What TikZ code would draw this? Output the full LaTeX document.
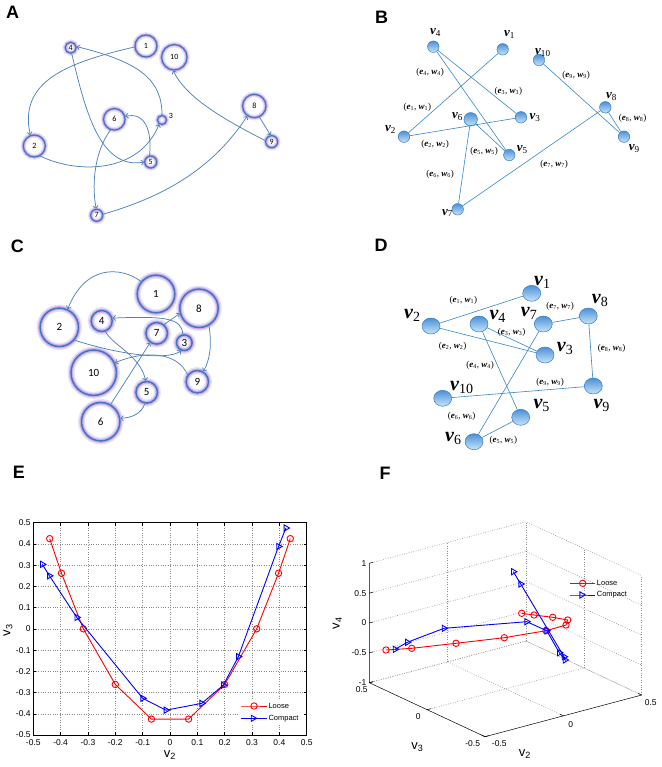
\documentclass[tikz,border=0pt]{standalone}
\usepackage{fontspec}
\setmainfont{Liberation Serif}
\setsansfont{Liberation Sans}
\newfontfamily\calibfont{Carlito}
\usetikzlibrary{arrows.meta,shapes.geometric,plotmarks}

\definecolor{ringblue}{RGB}{68,114,196}
\definecolor{arrowblue}{RGB}{79,129,189}
\definecolor{glowpurple}{RGB}{200,178,234}
\definecolor{glowsoft}{RGB}{234,225,248}
\definecolor{ballrim}{RGB}{60,125,195}
\definecolor{balltop}{RGB}{75,145,215}
\definecolor{ballbot}{RGB}{200,228,250}
\definecolor{edgeblue}{RGB}{55,135,200}
\definecolor{mred}{RGB}{255,0,0}
\definecolor{mblue}{RGB}{0,0,255}
\definecolor{gridgray}{RGB}{140,140,140}

\newcommand{\fsz}[1]{\fontsize{#1}{#1}\selectfont}
\newcommand{\vlab}[1]{{\bfseries\itshape v}\textsubscript{#1}}
\newcommand{\ewlab}[1]{({\bfseries\itshape e}\textsubscript{#1}, {\bfseries\itshape w}\textsubscript{#1})}
\newcommand{\axv}[1]{v\textsubscript{#1}}

\begin{document}
\begin{tikzpicture}[
    x=1pt, y=-1pt,
    panel/.style={anchor=base west, inner sep=0pt, font=\sffamily\bfseries\fsz{18}},
    anode/.style={circle, draw=ringblue, line width=1.2pt, inner sep=0pt, font=\calibfont\fsz{8},
      preaction={fill=white}, preaction={draw=glowsoft, line width=5.5pt}, preaction={draw=glowpurple, line width=3pt}},
    cnode/.style={circle, draw=ringblue, line width=1.5pt, inner sep=0pt, font=\calibfont\fsz{11},
      preaction={fill=white}, preaction={draw=glowsoft, line width=7pt}, preaction={draw=glowpurple, line width=4pt}},
    aedge/.style={draw=arrowblue, line width=0.75pt, -{Straight Barb[length=2.5pt,width=5pt]}},
    bnode/.style={circle, draw=ballrim, line width=0.5pt, inner sep=0pt, top color=balltop, bottom color=ballbot, minimum size=11.5},
    dnode/.style={ellipse, draw=ballrim, line width=0.5pt, inner sep=0pt, top color=balltop, bottom color=ballbot, minimum width=18, minimum height=16},
    bedge/.style={draw=edgeblue, line width=0.6pt},
    bvl/.style={anchor=base west, inner sep=0pt, font=\fsz{13}},
    dvl/.style={anchor=base west, inner sep=0pt, font=\fsz{20}},
    ewl/.style={inner sep=0pt, font=\fsz{9}},
    ticklab/.style={inner sep=0pt, font=\sffamily\fsz{8.5}},
    axlab/.style={inner sep=0pt, font=\sffamily\fsz{13}},
    leglab/.style={anchor=west, inner sep=0pt, font=\sffamily\fsz{7.5}},
    egrid/.style={draw=gridgray, line width=0.5pt, dash pattern=on 0.8pt off 1.6pt},
    axline/.style={draw=black, line width=0.5pt},
    loose/.style={draw=mred, line width=0.9pt, mark=o, mark size=3.2pt, mark options={solid, draw=mred}},
    compact/.style={draw=mblue, line width=0.9pt, mark=triangle, mark size=3.6pt, mark options={solid, draw=mblue, rotate=-90}}
]
    \useasboundingbox (0,0) rectangle (661,767);

    % A
    \node[panel] (labA) at (6,18.3) {A};
    \node[anode, minimum size=22] (a1) at (146,46) {1};
    \node[anode, minimum size=25.5] (a10) at (174.3,57.3) {10};
    \node[anode, minimum size=11] (a4) at (70.7,47.7) {4};
    \node[anode, minimum size=21.5] (a6) at (114.3,119.3) {6};
    \node[anode, minimum size=9] (a3) at (162,120) {};
    \node[font=\calibfont\fsz{8}, inner sep=0pt] (a3t) at (171,115.5) {3};
    \node[anode, minimum size=22] (a2) at (34.3,146) {2};
    \node[anode, minimum size=12] (a5) at (150.7,162) {5};
    \node[anode, minimum size=23.4] (a8) at (254.3,106) {8};
    \node[anode, minimum size=12] (a9) at (271.7,141.7) {9};
    \node[anode, minimum size=12] (a7) at (96.7,215.3) {7};

    \draw[aedge] (a1.185) .. controls (70,62) and (18,80) .. (a2.110);
    \draw[aedge] (a3.90) .. controls (162,80) and (140,62) .. (a4.10);
    \draw[aedge] (a4.280) .. controls (85,110) and (100,170) .. (a5.180);
    \draw[aedge] (a2.300) .. controls (80,175) and (140,172) .. (a3.235);
    \draw[aedge] (a5.100) .. controls (152,130) and (145,112) .. (a6.15);
    \draw[aedge] (a6.250) .. controls (96,150) and (91,180) .. (a7.95);
    \draw[aedge] (a7.10) .. controls (170,195) and (215,165) .. (a8.235);
    \draw[aedge] (a8.295) -- (a9.100);
    \draw[aedge] (a9.170) .. controls (215,115) and (185,95) .. (a10.265);

    % B
    \node[panel] (labB) at (375,24) {B};
    \node[bnode] (b4) at (433.3,46.7) {};
    \node[bnode] (b1) at (502.7,49.3) {};
    \node[bnode] (b10) at (539,60) {};
    \node[bnode] (b8) at (605.3,107.3) {};
    \node[bnode] (b9) at (624,136.7) {};
    \node[bnode] (b3) at (521,117.3) {};
    \node[bnode, minimum size=13.5] (b6) at (470.7,119.3) {};
    \node[bnode] (b2) at (404,136.7) {};
    \node[bnode] (b5) at (509.3,155) {};
    \node[bnode] (b7) at (457.7,209.3) {};

    \draw[bedge] (b2) -- (b1);
    \draw[bedge] (b2) -- (b3);
    \draw[bedge] (b4) -- (b3);
    \draw[bedge] (b4) -- (b5);
    \draw[bedge] (b6) -- (b5);
    \draw[bedge] (b6) -- (b7);
    \draw[bedge] (b7) -- (b8);
    \draw[bedge] (b8) -- (b9);
    \draw[bedge] (b10) -- (b9);

    \node[bvl] (bl4) at (430,35) {\vlab{4}};
    \node[bvl] (bl1) at (504,36.7) {\vlab{1}};
    \node[bvl] (bl10) at (535,55) {\vlab{10}};
    \node[bvl] (bl8) at (606,99) {\vlab{8}};
    \node[bvl] (bl9) at (628.7,150.7) {\vlab{9}};
    \node[bvl] (bl3) at (529.3,120) {\vlab{3}};
    \node[bvl] (bl6) at (452,118.3) {\vlab{6}};
    \node[bvl] (bl2) at (385,131.7) {\vlab{2}};
    \node[bvl] (bl5) at (516.7,151.7) {\vlab{5}};
    \node[bvl] (bl7) at (442,215) {\vlab{7}};

    \node[ewl] (be1) at (417.3,107.3) {\ewlab{1}};
    \node[ewl] (be2) at (435,144) {\ewlab{2}};
    \node[ewl] (be3) at (508.3,91.7) {\ewlab{3}};
    \node[ewl] (be4) at (430,72.7) {\ewlab{4}};
    \node[ewl] (be5) at (484,151.7) {\ewlab{5}};
    \node[ewl] (be6) at (440,174) {\ewlab{6}};
    \node[ewl] (be7) at (554,164) {\ewlab{7}};
    \node[ewl] (be8) at (632.7,118.3) {\ewlab{8}};
    \node[ewl] (be9) at (576,75) {\ewlab{9}};

    % C
    \node[panel] (labC) at (10.7,252.7) {C};
    \node[cnode, minimum size=37.6] (c1) at (156,294) {1};
    \node[cnode, minimum size=38.4] (c8) at (199,308.3) {8};
    \node[cnode, minimum size=38.4] (c2) at (59.3,327.3) {2};
    \node[cnode, minimum size=21] (c4) at (101.7,321) {4};
    \node[cnode, minimum size=21.6] (c7) at (156.7,333.3) {7};
    \node[cnode, minimum size=15.6] (c3) at (184.3,342.7) {3};
    \node[cnode, minimum size=45.4] (c10) at (93.7,372.7) {10};
    \node[cnode, minimum size=22.4] (c9) at (197.3,381.7) {9};
    \node[cnode, minimum size=21.6] (c5) at (146.7,392.3) {5};
    \node[cnode, minimum size=38.4] (c6) at (100.7,421.7) {6};

    \draw[aedge] (c1.140) .. controls (120,266) and (85,265) .. (c2.65);
    \draw[aedge] (c3.100) .. controls (182,318) and (165,316) .. (c4.15);
    \draw[aedge] (c4.290) .. controls (112,345) and (140,355) .. (c5.95);
    \draw[aedge] (c2.320) .. controls (110,352) and (165,362) .. (c3.250);
    \draw[aedge] (c9.145) .. controls (178,352) and (145,350) .. (c10.25);
    \draw[aedge] (c5.260) .. controls (142,413) and (132,418) .. (c6.10);
    \draw[aedge] (c6.60) -- (c7.235);
    \draw[aedge] (c7.50) -- (c8.195);
    \draw[aedge] (c8.300) .. controls (212,345) and (210,360) .. (c9.60);

    % D
    \node[panel] (labD) at (374.3,251.7) {D};
    \node[dnode] (d1) at (531.7,293.3) {};
    \node[dnode] (d2) at (431,326) {};
    \node[dnode] (d4) at (479,324) {};
    \node[dnode] (d7) at (543.3,324) {};
    \node[dnode] (d8) at (588.3,316) {};
    \node[dnode] (d3) at (545,355) {};
    \node[dnode] (d10) at (442.7,398.3) {};
    \node[dnode] (d9) at (593.3,386) {};
    \node[dnode] (d5) at (520.7,417.3) {};
    \node[dnode] (d6) at (474,441.7) {};

    \draw[bedge] (d2) -- (d1);
    \draw[bedge] (d2) -- (d3);
    \draw[bedge] (d4) -- (d3);
    \draw[bedge] (d4) -- (d5);
    \draw[bedge] (d6) -- (d5);
    \draw[bedge] (d6) -- (d7);
    \draw[bedge] (d7) -- (d8);
    \draw[bedge] (d8) -- (d9);
    \draw[bedge] (d10) -- (d9);

    \node[dvl] (dl1) at (534,285) {\vlab{1}};
    \node[dvl] (dl2) at (404,318.3) {\vlab{2}};
    \node[dvl] (dl4) at (489.3,319.3) {\vlab{4}};
    \node[dvl] (dl7) at (520.7,316.7) {\vlab{7}};
    \node[dvl] (dl8) at (591.7,303.3) {\vlab{8}};
    \node[dvl] (dl3) at (556.7,351.7) {\vlab{3}};
    \node[dvl] (dl10) at (450,390) {\vlab{10}};
    \node[dvl] (dl9) at (593.3,408.3) {\vlab{9}};
    \node[dvl] (dl5) at (533.3,408.3) {\vlab{5}};
    \node[dvl] (dl6) at (445,441.7) {\vlab{6}};

    \node[ewl] (de1) at (463.3,300.7) {\ewlab{1}};
    \node[ewl] (de2) at (452.7,346) {\ewlab{2}};
    \node[ewl] (de3) at (511.7,332.7) {\ewlab{3}};
    \node[ewl] (de4) at (480,365.7) {\ewlab{4}};
    \node[ewl] (de5) at (503.3,440) {\ewlab{5}};
    \node[ewl] (de6) at (461.7,416) {\ewlab{6}};
    \node[ewl] (de7) at (560,306) {\ewlab{7}};
    \node[ewl] (de8) at (611.7,348.3) {\ewlab{8}};
    \node[ewl] (de9) at (550,382.7) {\ewlab{9}};

    % E
    \node[panel] (labE) at (12.7,478.3) {E};
    \begin{scope}[shift={(170,628.85)}, x=273.4pt, y=212.3pt]
        \foreach \k in {-4,...,4} {
            \draw[egrid] (\k/10,-0.5) -- (\k/10,0.5);
            \draw[egrid] (-0.5,\k/10) -- (0.5,\k/10);
        }
        \draw[axline] (-0.5,-0.5) rectangle (0.5,0.5);
        \foreach \k in {-5,...,5} {
            \draw[axline] (\k/10,-0.5) -- ++(0,3pt);
            \draw[axline] (\k/10,0.5) -- ++(0,-3pt);
            \draw[axline] (-0.5,\k/10) -- ++(3pt,0);
            \draw[axline] (0.5,\k/10) -- ++(-3pt,0);
        }
        \foreach \k/\t in {-5/-0.5,-4/-0.4,-3/-0.3,-2/-0.2,-1/-0.1,0/0,1/0.1,2/0.2,3/0.3,4/0.4,5/0.5} {
            \node[ticklab, anchor=north, yshift=-4.5pt] (ex\k) at (\k/10,-0.5) {\t};
            \node[ticklab, anchor=east, xshift=-2.5pt] (ey\k) at (-0.5,\k/10) {\t};
        }
        \draw[loose] plot coordinates {(-0.44,0.425) (-0.397,0.262) (-0.317,0) (-0.2,-0.262) (-0.068,-0.425)
            (0.068,-0.425) (0.2,-0.262) (0.317,0) (0.397,0.262) (0.44,0.425)};
        \draw[compact] plot coordinates {(-0.467,0.304) (-0.441,0.25) (-0.341,0.054) (-0.1,-0.327) (-0.015,-0.383)
            (0.116,-0.351) (0.195,-0.265) (0.25,-0.131) (0.397,0.388) (0.424,0.475)};
    \end{scope}
    \fill[white] (238,699) rectangle (304,725);
    \draw[loose, mark indices={2}] plot coordinates {(240.7,706) (254,706) (266.7,706)};
    \draw[compact, mark indices={2}] plot coordinates {(240.7,718.3) (253,718.3) (266.7,718.3)};
    \node[leglab] (eleg1) at (268.3,706) {Loose};
    \node[leglab] (eleg2) at (268.3,718.3) {Compact};
    \node[axlab] (exlab) at (170,755) {\axv{2}};
    \node[axlab, rotate=90] (eylab) at (8,630) {\axv{3}};

    % F
    \node[panel] (labF) at (379.3,479) {F};
    \begin{scope}[shift={(505.5,629.15)}, x={(156.7pt,41.7pt)}, y={(-115.7pt,54pt)}, z={(0pt,59.7pt)}]
        \foreach \c in {-1,-0.5,0,0.5,1} {
            \draw[egrid] (-0.5,0.5,\c) -- (0.5,0.5,\c) -- (0.5,-0.5,\c);
        }
        \foreach \a in {0,0.5} {
            \draw[egrid] (\a,0.5,-1) -- (\a,0.5,1);
            \draw[egrid] (\a,0.5,-1) -- (\a,-0.5,-1);
            \draw[egrid] (-0.5,\a,-1) -- (0.5,\a,-1);
        }
        \draw[egrid] (0.5,0,-1) -- (0.5,0,1);
        \draw[egrid] (0.5,-0.5,-1) -- (0.5,-0.5,1);
        \draw[axline] (-0.5,0.5,1) -- (-0.5,0.5,-1) -- (-0.5,-0.5,-1) -- (0.5,-0.5,-1);
        \foreach \c in {-1,-0.5,0,0.5,1} {
            \draw[axline] (-0.5,0.5,\c) -- ++(0.025,0,0);
        }
        \foreach \b in {-0.5,0,0.5} {
            \draw[axline] (-0.5,\b,-1) -- ++(0.025,0,0);
            \draw[axline] (\b,-0.5,-1) -- ++(0,0.03,0);
        }
    \end{scope}
    \node[ticklab, anchor=east] (fz1) at (366.5,563.3) {1};
    \node[ticklab, anchor=east] (fz2) at (366.5,593.3) {0.5};
    \node[ticklab, anchor=east] (fz3) at (366.5,623) {0};
    \node[ticklab, anchor=east] (fz4) at (366.5,652.7) {-0.5};
    \node[ticklab, anchor=east] (fz5) at (366.5,682.7) {-1};
    \node[ticklab] (fy1) at (361.7,690) {0.5};
    \node[ticklab] (fy2) at (418.3,716.7) {0};
    \node[ticklab] (fy3) at (472.7,743.3) {-0.5};
    \node[ticklab] (fx1) at (499.3,743.3) {-0.5};
    \node[ticklab] (fx2) at (570.7,724.3) {0};
    \node[ticklab] (fx3) at (650.7,702.7) {0.5};

    \draw[loose] plot coordinates {(386,650) (411.7,648.3) (456,643.3) (504.3,637.7) (546,630.7) (566,625)
        (567.7,620) (552.7,617.3) (534,615) (521.7,613.3)};
    \draw[compact] plot coordinates {(395,649.3) (407.3,642.3) (444,628.3) (526.7,621.7) (546.7,630.7)
        (559.3,652.7) (565,660) (564,656.7) (520.7,584) (513.3,571.7)};

    \draw[loose, mark indices={2}] plot coordinates {(570,583.3) (582.7,583.3) (595,583.3)};
    \draw[compact, mark indices={2}] plot coordinates {(570,595) (581.7,595) (595,595)};
    \node[leglab] (fleg1) at (596.7,583.3) {Loose};
    \node[leglab] (fleg2) at (596.7,595) {Compact};
    \node[axlab, rotate=90] (fzlab) at (337.3,623.3) {\axv{4}};
    \node[axlab] (fylab) at (417.3,747.3) {\axv{3}};
    \node[axlab] (fxlab) at (525,754) {\axv{2}};

\end{tikzpicture}
\end{document}
